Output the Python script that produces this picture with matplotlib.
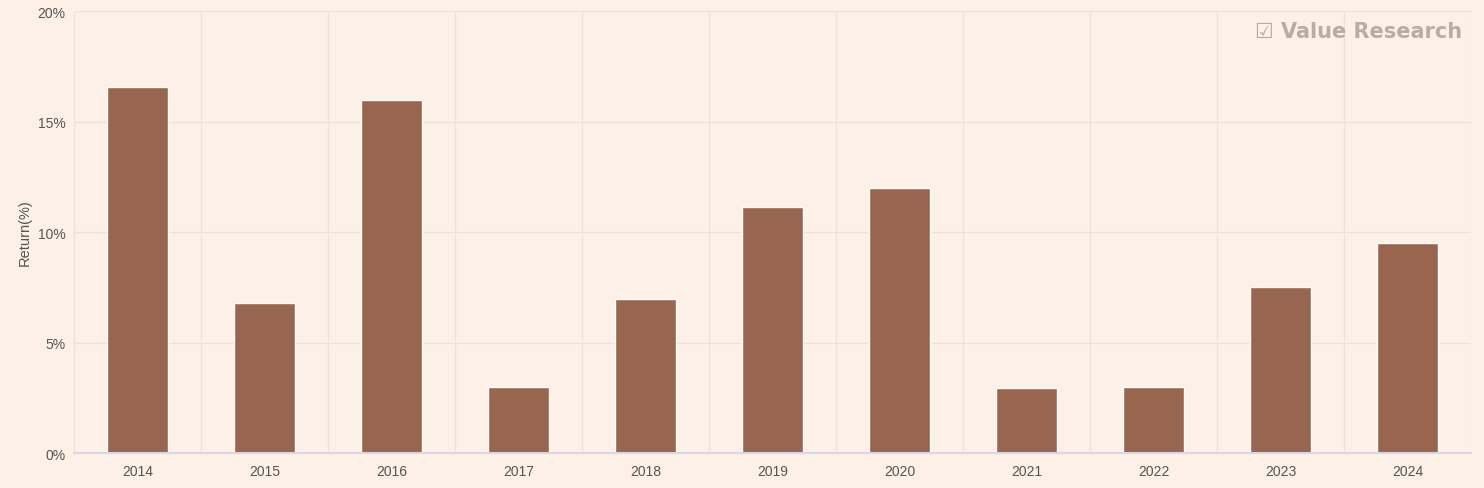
import matplotlib.pyplot as plt
import numpy as np
from matplotlib.ticker import FuncFormatter

plt.rcParams['font.family'] = ['Liberation Sans', 'DejaVu Sans']

# Datos: rentabilidad anual (%)
years = ['2014', '2015', '2016', '2017', '2018', '2019', '2020', '2021', '2022', '2023', '2024']
returns = [16.56, 6.79, 15.97, 2.99, 6.97, 11.13, 11.99, 2.94, 2.99, 7.51, 9.50]

bg = '#fdf0e7'
bar_color = '#98664f'
grid_color = '#ebe3de'

fig = plt.figure(figsize=(14.84, 4.89), dpi=100, facecolor=bg)
ax = fig.add_axes([74 / 1484, 1 - 454 / 489, (1471 - 74) / 1484, (454 - 12) / 489])
ax.set_facecolor(bg)

x = np.arange(len(years))
ax.bar(x, returns, width=0.48, color=bar_color, edgecolor='white', linewidth=1, zorder=3)

ax.set_xlim(-0.5, len(years) - 0.5)
ax.set_ylim(0, 20)
ax.set_yticks([0, 5, 10, 15, 20])
ax.yaxis.set_major_formatter(FuncFormatter(lambda v, p: f'{v:.0f}%'))
ax.set_xticks(x)
ax.set_xticklabels(years)

# rejilla: horizontal cada 5%, vertical entre categorías
for v in [5, 10, 15, 20]:
    ax.axhline(v, color=grid_color, linewidth=1, zorder=1)
for b in np.arange(-0.5, len(years), 1.0):
    ax.axvline(b, color=grid_color, linewidth=1, zorder=1)

for s in ['top', 'right', 'left']:
    ax.spines[s].set_visible(False)
ax.spines['bottom'].set_color('#d9d6e8')
ax.spines['bottom'].set_linewidth(1.5)
ax.spines['bottom'].set_zorder(4)

ax.tick_params(axis='both', length=0, labelsize=10, colors='#555555')
ax.tick_params(axis='x', pad=8)
ax.tick_params(axis='y', pad=6)
ax.set_ylabel('Return(%)', fontsize=10.5, color='#555555', labelpad=4)

fig.text(1462 / 1484, 1 - 32 / 489, '\u2611 Value Research', ha='right', va='center',
         fontsize=15, fontweight='bold', color='#b8aca4', family=['DejaVu Sans'])

fig.savefig('out.png', dpi=100, facecolor=bg)
